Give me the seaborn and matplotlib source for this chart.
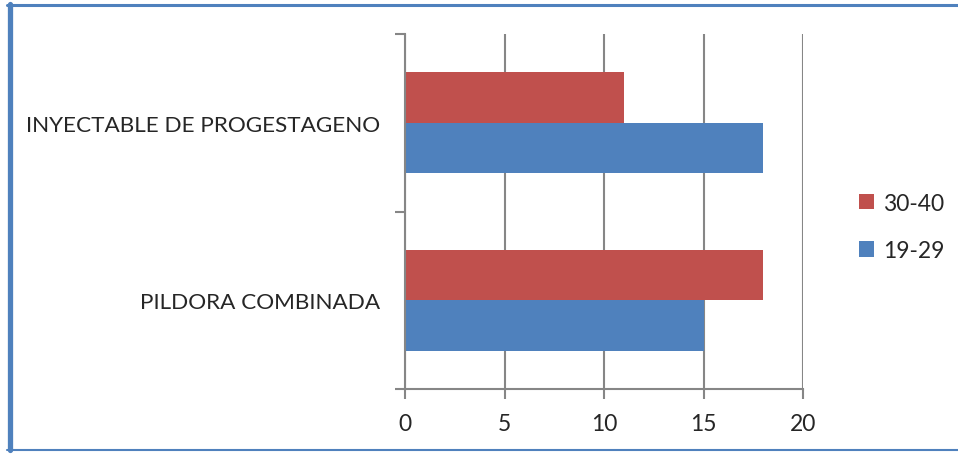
import matplotlib
matplotlib.use("Agg")
import matplotlib.pyplot as plt
from matplotlib.lines import Line2D
from matplotlib.patches import Patch
import seaborn as sns
import pandas as pd

# Contraceptive method by age group
methods = ["INYECTABLE DE PROGESTAGENO", "PILDORA COMBINADA"]
age_groups = ["30-40", "19-29"]
values_30_40 = [11, 18]
values_19_29 = [18, 15]
x_ticks = [0, 5, 10, 15, 20]

colors = {"30-40": "#C0504D", "19-29": "#4F81BD"}

df = pd.DataFrame({
    "metodo": methods * 2,
    "edad": ["30-40"] * len(methods) + ["19-29"] * len(methods),
    "valor": values_30_40 + values_19_29,
})

sns.set_theme(style="white")
plt.rcParams["font.family"] = ["Lato", "DejaVu Sans"]

fig = plt.figure(figsize=(9.58, 4.56), dpi=100)
ax = fig.add_axes([405 / 958, 1 - 390 / 456, 398 / 958, 355 / 456])

sns.barplot(data=df, y="metodo", x="valor", hue="edad", order=methods,
            hue_order=age_groups, palette=colors, orient="h", width=0.57,
            saturation=1, ax=ax, legend=False, linewidth=0)

grid_c = "#868686"
ax.set_xlim(0, 20)
ax.set_ylim(1.5, -0.5)
ax.set_xticks(x_ticks)
ax.set_xticklabels([str(t) for t in x_ticks], fontsize=16.5)
ax.xaxis.grid(True, color=grid_c, linewidth=1.5)
ax.set_axisbelow(True)

# category boundaries get ticks, category centres get labels
ax.set_yticks([-0.5, 0.5, 1.5])
ax.set_yticklabels(["", "", ""])
ax.set_yticks([0, 1], minor=True)
ax.set_yticklabels(methods, minor=True, fontsize=16.2)
ax.tick_params(axis="y", which="major", direction="out", length=7, width=1.5,
               color=grid_c, left=True)
ax.tick_params(axis="y", which="minor", length=0, pad=18)
ax.tick_params(axis="x", direction="out", length=7, width=1.5, color=grid_c,
               bottom=True, pad=10)
ax.set_xlabel("")
ax.set_ylabel("")

for side in ["top", "right"]:
    ax.spines[side].set_visible(False)
for side in ["left", "bottom"]:
    ax.spines[side].set_color(grid_c)
    ax.spines[side].set_linewidth(1.5)

handles = [Patch(facecolor=colors[g], edgecolor="none") for g in age_groups]
fig.legend(handles, age_groups, loc="center left",
           bbox_to_anchor=(838 / 958, 1 - 228 / 456), frameon=False,
           fontsize=16.5, handlelength=0.65, handleheight=0.65,
           handletextpad=0.4, labelspacing=1.15)

# frame around the chart
border = "#4F81BD"
fig.add_artist(Line2D([7 / 958, 1], [1 - 6 / 456] * 2, color=border,
                      linewidth=2.2, transform=fig.transFigure))
fig.add_artist(Line2D([9.5 / 958] * 2, [1 - 451 / 456, 1 - 5 / 456],
                      color=border, linewidth=3.8, transform=fig.transFigure))
fig.add_artist(Line2D([7 / 958, 1], [1 - 451 / 456] * 2, color=border,
                      linewidth=1.5, transform=fig.transFigure))

fig.savefig("out.png", dpi=100)
